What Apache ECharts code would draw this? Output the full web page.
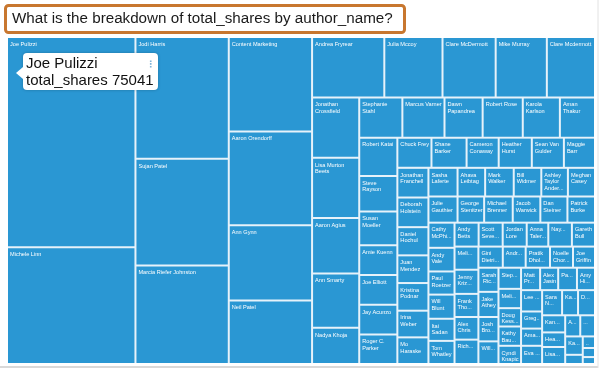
<!DOCTYPE html>
<html>
<head>
<meta charset="utf-8">
<script src="https://cdn.jsdelivr.net/npm/echarts@6/dist/echarts.min.js"></script>
<style>
  html, body { margin: 0; padding: 0; background: #fff; }
  #chart { width: 605px; height: 371px; }
</style>
</head>
<body>
<div id="chart"></div>
<script>
// ---- data (order = order of the tiles in the reference) ----
const titleText = 'What is the breakdown of total_shares by author_name?';
const measureName = 'total_shares';

const authorNames = [
  'Joe Pulizzi', 'Michele Linn',
  'Jodi Harris', 'Sujan Patel', 'Marcia Riefer Johnston',
  'Content Marketing', 'Aaron Orendorff', 'Ann Gynn', 'Neil Patel',
  'Andrea Fryrear', 'Julia Mccoy', 'Clare McDermott', 'Mike Murray', 'Clare Mcdermott',
  'Jonathan Crossfield', 'Lisa Murton Beets', 'Aaron Agius', 'Ann Smarty', 'Nadya Khoja',
  'Stephanie Stahl', 'Marcus Varner', 'Dawn Papandrea', 'Robert Rose', 'Karola Karlson', 'Aman Thakur',
  'Robert Katai', 'Steve Rayson', 'Susan Moeller', 'Amie Kuenn', 'Joe Elliott', 'Jay Acunzo', 'Roger C. Parker',
  'Chuck Frey', 'Shane Barker', 'Cameron Conaway', 'Heather Hurst', 'Sean Van Gulder', 'Maggie Barr',
  'Jonathan Franchell', 'Deborah Holstein', 'Daniel Hochul', 'Juan Mendez', 'Kristina Podnar', 'Irina Weber', 'Mo Haraske',
  'Sasha Laferte', 'Ahava Leibtag', 'Mark Walker', 'Bill Widmer', 'Ashley Taylor Ander...', 'Meghan Casey',
  'Julie Gauthier', 'George Stenitzer', 'Michael Brenner', 'Jacob Warwick', 'Dan Steiner', 'Patrick Burke',
  'Cathy McPhi...', 'Andy Vale', 'Paul Roetzer', 'Will Blunt', 'Itai Sadan', 'Tom Whatley',
  'Andy Betts', 'Scott Seve...', 'Jordan Lore', 'Anna Taler...', 'Nay...', 'Gareth Bull',
  'Meli...', 'Jenny Kriz...', 'Frank Tho...', 'Alex Chris', 'Rich...',
  'Gini Dietri...', 'Andr...', 'Pratik Dhol...', 'Noelle Chor...', 'Joe Griffin',
  'Sarah Ric...', 'Jake Athey', 'Josh Bro...', 'Will...',
  'Step...', 'Meli... ', 'Doug Kess...', 'Kathy Bau...', 'Cyndi Knapic',
  'Matt Pr...', 'Alex Jasin', 'Pa...', 'Amy Hi...',
  'Lee ...', 'Greg...', 'Ama...', 'Eva ...',
  'Sara N...', 'Ka...', 'D...',
  'Kan...', 'Hea...', 'Lisa...',
  'A...', '...',
  'Ka... ', '.', '..', '. ', '.. '
];

const totalShares = [
  75041, 41650,
  31565, 27652, 25566,
  21885, 21652, 17462, 14668,
  12118, 9762, 8920, 8584, 8079,
  7910, 7905, 7251, 7119, 4746,
  4825, 4712, 4264, 4488, 4151, 3927,
  4050, 3784, 3571, 3150, 3145, 3140, 3135,
  2861, 2945, 2693, 2777, 2690, 2609,
  2565, 2560, 2435, 2391, 2388, 2304, 2300,
  2318, 2198, 2278, 2195, 2119, 2158,
  2115, 1933, 2079, 2006, 1969, 2004,
  1823, 1714, 1677, 1750, 1604, 1675,
  1602, 1600, 1598, 1435, 1569, 1536,
  1535, 1602, 1533, 1502, 1616,
  1431, 1343, 1429, 1349, 1290,
  1346, 1403, 1358, 1262,
  1325, 1212, 1149, 1210, 1142,
  1189, 1126, 1170, 1124,
  1249, 1001, 1007, 1066,
  1396, 1115, 1185,
  1097, 935, 1090,
  884, 866,
  898, 449, 393, 309, 236
];

// ---- build ----
const treeData = authorNames.map((n, i) => ({ name: n, value: totalShares[i] }));
const tipText = authorNames[0] + '\n' + measureName + ' ' + totalShares[0];

const chart = echarts.init(document.getElementById('chart'), null, { renderer: 'canvas' });
chart.setOption({
  animation: false,
  backgroundColor: '#fff',
  title: {
    text: titleText,
    left: 5, top: 5,
    padding: [5, 12, 5, 7],
    borderColor: '#C8772F',
    borderWidth: 3,
    borderRadius: 3,
    backgroundColor: '#fff',
    textStyle: { fontFamily: 'Liberation Sans, Arial, sans-serif', fontSize: 15.2, fontWeight: 'normal', color: '#1a1a1a', lineHeight: 18 }
  },
  series: [{
    type: 'treemap',
    name: measureName,
    left: 8, top: 38, right: 11, bottom: 8,
    roam: false,
    nodeClick: false,
    breadcrumb: { show: false },
    sort: false,
    squareRatio: 1,
    visibleMin: 1,
    itemStyle: { color: '#2A97D3', borderColor: '#E6F2FA', borderWidth: 0, gapWidth: 2 },
    levels: [
      { itemStyle: { borderWidth: 0, gapWidth: 2, borderColor: '#E6F2FA' } },
      { itemStyle: { borderWidth: 0, gapWidth: 0, color: '#2A97D3' } }
    ],
    label: {
      show: true,
      position: 'insideTopLeft',
      padding: [3, 0, 0, 2],
      fontFamily: 'Liberation Sans, Arial, sans-serif',
      fontSize: 5.6,
      lineHeight: 6.5,
      color: '#fff',
      overflow: 'break',
      lineOverflow: 'truncate',
      ellipsis: '...'
    },
    upperLabel: { show: false },
    data: treeData
  }],
  graphic: [
    { type: 'line', z: 100, shape: { x1: 0, y1: 367, x2: 598, y2: 367 }, style: { stroke: '#d9d9d9', lineWidth: 2 } },
    { type: 'line', z: 100, shape: { x1: 598, y1: 0, x2: 598, y2: 368 }, style: { stroke: '#e2e2e2', lineWidth: 1 } },
    {
      type: 'group', left: 16, top: 53, z: 100,
      children: [
        { type: 'rect', z: 100, shape: { x: 7, y: 0, width: 135, height: 37, r: 4 },
          style: { fill: '#fff', shadowBlur: 3, shadowColor: 'rgba(0,0,0,0.25)' } },
        { type: 'polygon', z: 101, shape: { points: [[7, 14], [0, 20], [7, 26]] }, style: { fill: '#fff' } },
        { type: 'text', z: 102, x: 10, y: 2,
          style: { text: tipText, font: '15px "Liberation Sans", Arial, sans-serif', fill: '#111', lineHeight: 17 } },
        { type: 'text', z: 102, x: 130, y: 7,
          style: { text: '⋮', font: 'bold 9px "DejaVu Sans", sans-serif', fill: '#7fb3d9' } }
      ]
    }
  ]
});
</script>
</body>
</html>
